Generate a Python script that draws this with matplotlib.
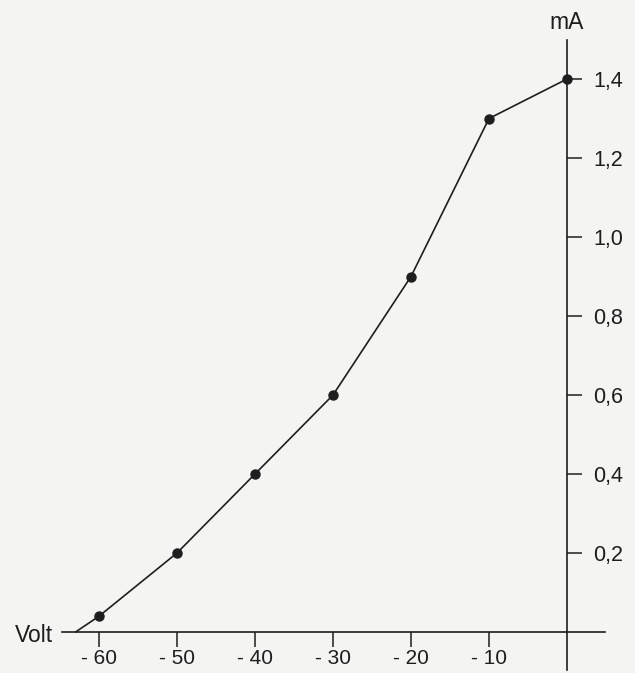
import matplotlib
matplotlib.use("Agg")
import matplotlib.pyplot as plt

plt.rcParams['font.family'] = ['Liberation Sans', 'DejaVu Sans']

# data
volts = [-63, -60, -50, -40, -30, -20, -10, 0]
current_ma = [0.0, 0.04, 0.2, 0.4, 0.6, 0.9, 1.3, 1.4]

x_ticks = [-60, -50, -40, -30, -20, -10]
x_labels = ["- 60", "- 50", "- 40", "- 30", "- 20", "- 10"]
y_ticks = [0.2, 0.4, 0.6, 0.8, 1.0, 1.2, 1.4]
y_labels = ["0,2", "0,4", "0,6", "0,8", "1,0", "1,2", "1,4"]

W, H = 635, 673
# pixel placement of the origin and scale of the drawing
x0, xs = 567, 7.8     # px, px per volt
y0, ys = 632, 395     # px, px per mA

ink = "#1e1e1e"
paper = "#f4f4f3"

fig = plt.figure(figsize=(W / 100, H / 100), dpi=100, facecolor=paper)
ax = fig.add_axes([0, 0, 1, 1], facecolor=paper)
ax.set_xlim(-x0 / xs, (W - x0) / xs)
ax.set_ylim((y0 - H) / ys, y0 / ys)

ax.plot(volts, current_ma, color=ink, lw=1.2, marker="o", ms=6.5,
        markevery=list(range(1, len(volts))), solid_joinstyle="miter")

# axes crossing at the origin
for side in ["left", "top"]:
    ax.spines[side].set_visible(False)
ax.spines["right"].set_position(("data", 0))
ax.spines["bottom"].set_position(("data", 0))
ax.spines["right"].set_bounds((y0 - 670) / ys, (y0 - 40) / ys)
ax.spines["bottom"].set_bounds((62 - x0) / xs, (605 - x0) / xs)
for side in ["right", "bottom"]:
    ax.spines[side].set_color(ink)
    ax.spines[side].set_linewidth(1.2)

ax.xaxis.set_ticks_position("bottom")
ax.yaxis.set_ticks_position("right")
ax.set_xticks(x_ticks, x_labels)
ax.set_yticks(y_ticks, y_labels)
ax.tick_params(axis="x", direction="out", length=11, width=1.1, pad=1.5,
               labelsize=15, colors=ink)
ax.tick_params(axis="y", direction="out", length=11, width=1.1, pad=8,
               labelsize=15.5, colors=ink)

ax.text(0, (y0 - 22) / ys, "mA", ha="center", va="center", fontsize=16.5,
        color=ink)
ax.text((53 - x0) / xs, (y0 - 635) / ys, "Volt", ha="right", va="center",
        fontsize=16.5, color=ink)

fig.savefig("out.png", dpi=100, facecolor=paper)
